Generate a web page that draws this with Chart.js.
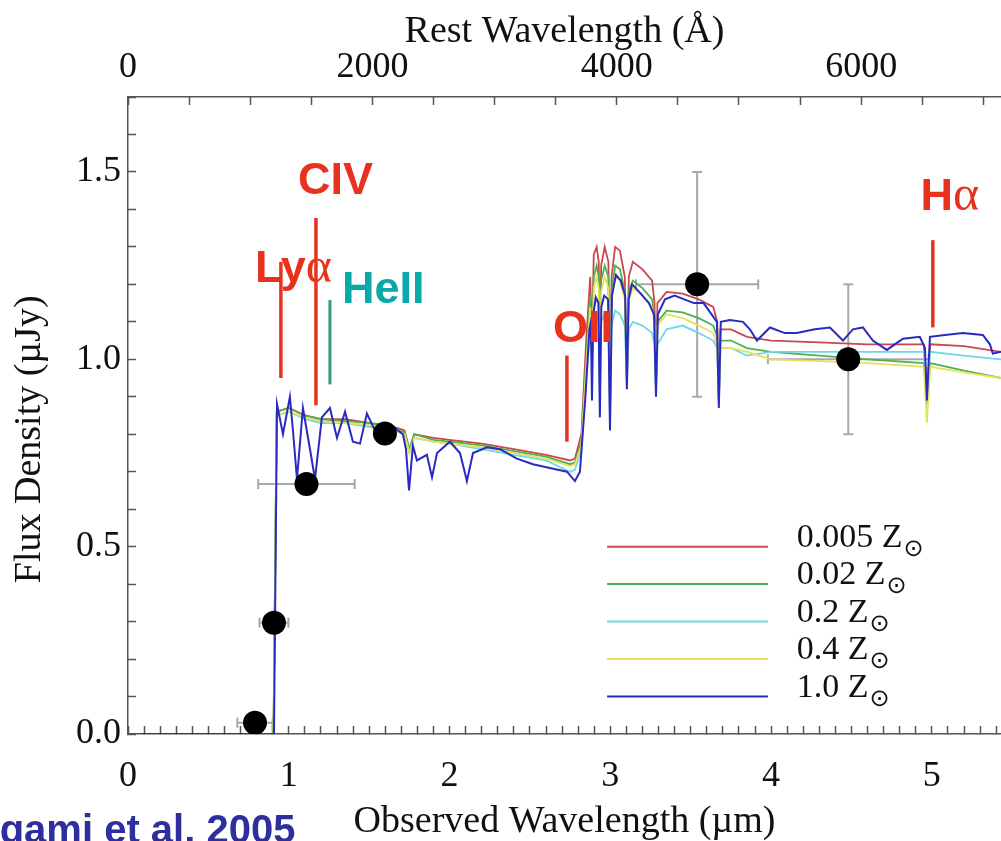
<!DOCTYPE html>
<html>
<head>
<meta charset="utf-8">
<script src="https://cdn.jsdelivr.net/npm/chart.js@4.4.0/dist/chart.umd.min.js"></script>
<style>
  html, body { margin: 0; padding: 0; background: #fff; }
  canvas { display: block; }
</style>
</head>
<body>
<canvas id="sed" width="1001" height="841"></canvas>
<script>
// observed wavelength in micron, rest frame axis uses 1+z
const onePlusZ = 7.6;

// 1.0 Zsun model (the noisy blue one)
const waveBlue = [0.075, 0.908, 0.927, 0.964, 1.007, 1.026, 1.051, 1.088, 1.132, 1.163, 1.206, 1.256, 1.300, 1.350, 1.399,
  1.443, 1.486, 1.536, 1.590, 1.648, 1.710, 1.729, 1.748, 1.772, 1.797, 1.859, 1.891, 1.922, 2.002, 2.065, 2.108, 2.146,
  2.233, 2.313, 2.419, 2.519, 2.624, 2.730, 2.780, 2.811,
  2.845, 2.870, 2.879, 2.886, 2.894, 2.910, 2.926, 2.935, 2.944, 2.962, 2.986, 2.998, 3.010, 3.035, 3.065, 3.092, 3.103,
  3.114, 3.135, 3.180, 3.240, 3.272, 3.284, 3.296, 3.340, 3.400, 3.460, 3.520, 3.580, 3.630, 3.663, 3.675, 3.687, 3.744,
  3.825, 3.868, 3.912, 3.993, 4.086, 4.160, 4.272, 4.366, 4.447, 4.509, 4.571, 4.633, 4.720, 4.820, 4.925, 4.957, 4.969,
  4.988, 5.081, 5.193, 5.317, 5.361, 5.379, 5.430];
const flux10 = [0.0, 0.0, 0.88, 0.80, 0.90, 0.81, 0.68, 0.87, 0.76, 0.68, 0.845, 0.87, 0.79, 0.86, 0.78,
  0.775, 0.855, 0.81, 0.83, 0.82, 0.80, 0.76, 0.65, 0.77, 0.73, 0.745, 0.685, 0.75, 0.78, 0.75, 0.675, 0.75,
  0.765, 0.76, 0.735, 0.72, 0.71, 0.70, 0.675, 0.70,
  0.90, 1.08, 1.10, 0.89, 1.12, 1.165, 1.15, 0.845, 1.14, 1.17, 1.16, 0.81, 1.17, 1.225, 1.21, 1.17, 0.92,
  1.16, 1.20, 1.18, 1.15, 1.12, 0.90, 1.12, 1.16, 1.17, 1.16, 1.15, 1.15, 1.12, 1.10, 0.87, 1.10, 1.105,
  1.10, 1.08, 1.05, 1.085, 1.07, 1.07, 1.08, 1.085, 1.05, 1.08, 1.085, 1.05, 1.025, 1.055, 1.06, 1.03, 0.89,
  1.06, 1.065, 1.07, 1.065, 1.04, 1.015, 1.02];

// smoother low metallicity models
const waveModel = [0.075, 0.905, 0.925, 1.0, 1.1, 1.2, 1.35, 1.5, 1.65, 1.72, 1.75, 1.78, 1.9, 2.0, 2.2, 2.4, 2.6, 2.75,
  2.78, 2.82, 2.85, 2.875, 2.886, 2.897, 2.915, 2.928, 2.935, 2.943,
  2.965, 2.988, 2.998, 3.008, 3.03, 3.06, 3.09, 3.103, 3.115, 3.14,
  3.20, 3.26, 3.275, 3.284, 3.293, 3.35, 3.45, 3.55, 3.64, 3.665,
  3.675, 3.685, 3.75, 3.85, 4.0, 4.3, 4.6, 4.95, 4.969, 4.99,
  5.2, 5.43];
const flux0005 = [0, 0, 0.86, 0.87, 0.85, 0.84, 0.84, 0.83, 0.82, 0.81, 0.76, 0.80, 0.79, 0.785, 0.775, 0.76, 0.745, 0.73,
  0.735, 0.80, 1.05, 1.22, 1.05, 1.28, 1.30, 1.26, 0.95, 1.25,
  1.30, 1.26, 0.86, 1.22, 1.30, 1.29, 1.22, 0.95, 1.22, 1.26,
  1.24, 1.21, 1.15, 0.93, 1.15, 1.18, 1.175, 1.16, 1.14, 1.10,
  0.90, 1.08, 1.08, 1.06, 1.05, 1.045, 1.04, 1.04, 0.92, 1.04,
  1.035, 1.02];
const flux002 = [0, 0, 0.86, 0.87, 0.85, 0.84, 0.835, 0.83, 0.815, 0.805, 0.76, 0.80, 0.785, 0.78, 0.77, 0.755, 0.74, 0.72,
  0.725, 0.78, 1.00, 1.17, 1.02, 1.22, 1.25, 1.22, 0.93, 1.21,
  1.25, 1.22, 0.85, 1.18, 1.25, 1.24, 1.18, 0.94, 1.18, 1.21,
  1.19, 1.16, 1.11, 0.92, 1.10, 1.13, 1.125, 1.11, 1.09, 1.06,
  0.89, 1.05, 1.05, 1.03, 1.02, 1.01, 1.00, 0.99, 0.88, 0.99,
  0.97, 0.95];
const flux02 = [0, 0, 0.85, 0.86, 0.84, 0.83, 0.83, 0.82, 0.81, 0.80, 0.75, 0.79, 0.78, 0.775, 0.76, 0.745, 0.73, 0.70,
  0.705, 0.76, 0.95, 1.08, 0.98, 1.11, 1.12, 1.10, 0.90, 1.10,
  1.12, 1.10, 0.84, 1.09, 1.13, 1.12, 1.09, 0.93, 1.08, 1.10,
  1.09, 1.07, 1.04, 0.91, 1.04, 1.08, 1.09, 1.07, 1.05, 1.03,
  0.88, 1.03, 1.03, 1.01, 1.02, 1.02, 1.02, 1.02, 0.90, 1.02,
  1.01, 1.00];
const flux04 = [0, 0, 0.85, 0.86, 0.845, 0.835, 0.83, 0.825, 0.81, 0.80, 0.75, 0.79, 0.78, 0.775, 0.765, 0.75, 0.735, 0.715,
  0.72, 0.77, 0.98, 1.14, 1.00, 1.19, 1.22, 1.19, 0.92, 1.18,
  1.22, 1.19, 0.84, 1.16, 1.22, 1.21, 1.16, 0.93, 1.16, 1.19,
  1.17, 1.14, 1.09, 0.91, 1.09, 1.12, 1.11, 1.09, 1.07, 1.04,
  0.88, 1.03, 1.03, 1.02, 1.00, 0.995, 0.99, 0.98, 0.83, 0.98,
  0.965, 0.95];

// photometry with errors
const photWave = [0.79, 0.908, 1.11, 1.598, 3.54, 4.48];
const photFlux = [0.03, 0.297, 0.667, 0.802, 1.20, 1.00];
const photWaveErr = [0.11, 0.09, 0.30, 0, 0.38, 0.50];
const photFluxErr = [0, 0, 0, 0, 0.30, 0.20];

// emission line markers
const lineNames = ["Lyα", "CIV", "HeII", "OII", "Hα"];
const lineWave = [0.951, 1.169, 1.256, 2.73, 5.006];
const lineTop = [1.26, 1.377, 1.158, 1.01, 1.318];
const lineBottom = [0.95, 0.877, 0.933, 0.78, 1.085];
const labelWave = [0.79, 1.057, 1.331, 2.643, 4.93];
const labelFlux = [1.206, 1.441, 1.150, 1.045, 1.398];
const lineColors = ["#e8321e", "#e8321e", "#2fa070", "#e8321e", "#e8321e"];
const labelColors = ["#e8321e", "#e8321e", "#0aa8a8", "#e8321e", "#e8321e"];

const legendNames = ["0.005", "0.02", "0.2", "0.4", "1.0"];
const legendFlux = [0.5, 0.4, 0.3, 0.2, 0.1];
const seriesColors = ["#c9474f", "#4fb04f", "#6fd8e6", "#e3e35a", "#2a2ac0"];

// top axis ticks (rest frame, Angstrom)
const restTicks = [0, 500, 1000, 1500, 2000, 2500, 3000, 3500, 4000, 4500, 5000, 5500, 6000, 6500, 7000];
const restLabels = [0, 2000, 4000, 6000];

const xMax = 5.43;
const serif = '"Liberation Serif", "Times New Roman", serif';
const sans = '"Liberation Sans", Arial, sans-serif';

const seriesFlux = [flux0005, flux002, flux02, flux04, flux10];
const seriesWave = [waveModel, waveModel, waveModel, waveModel, waveBlue];

const spectra = seriesFlux.map((f, i) => ({
  label: legendNames[i] + " Z☉",
  data: f.map((y, j) => ({ x: seriesWave[i][j], y })),
  showLine: true,
  borderColor: seriesColors[i],
  borderWidth: i === 4 ? 2 : 1.8,
  pointRadius: 0,
  order: 6 - i
}));

const markers = lineWave.map((w, i) => ({
  label: lineNames[i],
  data: [{ x: w, y: lineBottom[i] }, { x: w, y: lineTop[i] }],
  showLine: true,
  borderColor: lineColors[i],
  borderWidth: i === 2 ? 3 : 3.5,
  pointRadius: 0,
  order: 1
}));

function errBar(data, rot) {
  return {
    label: "err",
    data,
    showLine: true,
    borderColor: "#a8a8a8",
    borderWidth: 2,
    pointStyle: "line",
    pointRadius: 5,
    pointRotation: rot,
    pointBorderColor: "#a8a8a8",
    pointBorderWidth: 2,
    order: 8
  };
}
const errorBars = [];
photWave.forEach((x, i) => {
  const y = photFlux[i];
  if (photWaveErr[i] > 0) errorBars.push(errBar([{ x: x - photWaveErr[i], y }, { x: x + photWaveErr[i], y }], 90));
  if (photFluxErr[i] > 0) errorBars.push(errBar([{ x, y: y - photFluxErr[i] }, { x, y: y + photFluxErr[i] }], 0));
});

const dots = {
  label: "photometry",
  data: photWave.map((x, i) => ({ x, y: photFlux[i] })),
  pointRadius: 12,
  backgroundColor: "#000",
  borderWidth: 0,
  order: 0
};

// legend + line names + credit text
const annotations = {
  id: "annotations",
  afterDatasetsDraw(chart) {
    const { ctx, scales: { x, y } } = chart;
    ctx.save();
    legendNames.forEach((name, i) => {
      const py = y.getPixelForValue(legendFlux[i]);
      ctx.strokeStyle = seriesColors[i];
      ctx.lineWidth = 2;
      ctx.beginPath();
      ctx.moveTo(x.getPixelForValue(2.98), py);
      ctx.lineTo(x.getPixelForValue(3.98), py);
      ctx.stroke();
      ctx.fillStyle = "#111";
      ctx.textBaseline = "alphabetic";
      ctx.font = "34px " + serif;
      const tx = x.getPixelForValue(4.16);
      const txt = name + " Z";
      ctx.fillText(txt, tx, py);
      const w = ctx.measureText(txt).width;
      ctx.font = '24px "DejaVu Sans", sans-serif';
      ctx.fillText("⊙", tx + w + 1, py + 9);
    });

    lineNames.forEach((name, i) => {
      const px = x.getPixelForValue(labelWave[i]);
      const py = y.getPixelForValue(labelFlux[i]);
      ctx.fillStyle = labelColors[i];
      const greek = name.endsWith("α");
      const head = greek ? name.slice(0, -1) : name;
      ctx.font = "bold 45px " + sans;
      ctx.fillText(head, px, py);
      if (greek) {
        const w = ctx.measureText(head).width;
        ctx.font = "50px " + serif;
        ctx.fillText("α", px + w, py);
      }
    });

    ctx.fillStyle = "#2e2e9e";
    ctx.font = "bold 40px " + sans;
    ctx.fillText("Egami et al. 2005", -27, 843);
    ctx.restore();
  }
};

const tickFont = { family: serif, size: 36, lineHeight: 1 };
const titleFont = { family: serif, size: 38, lineHeight: 1 };
const tickGrid = { drawOnChartArea: false, tickLength: -8, tickColor: "#555", tickWidth: 1.5 };
const axisBorder = { color: "#555", width: 1.5 };

new Chart(document.getElementById("sed"), {
  type: "scatter",
  data: { datasets: [dots, ...markers, ...spectra, ...errorBars] },
  options: {
    responsive: false,
    animation: false,
    events: [],
    layout: { padding: 0, autoPadding: false },
    plugins: { legend: { display: false }, tooltip: { enabled: false } },
    scales: {
      x: {
        type: "linear",
        position: "bottom",
        min: 0,
        max: xMax,
        afterFit: s => { s.height = 107; s.paddingLeft = 0; s.paddingRight = 0; },
        grid: tickGrid,
        border: axisBorder,
        ticks: {
          stepSize: 0.1,
          includeBounds: false,
          autoSkip: false,
          maxRotation: 0,
          padding: 33,
          color: "#111",
          font: tickFont,
          callback: v => Math.abs(v - Math.round(v)) < 1e-6 ? String(Math.round(v)) : ""
        },
        title: { display: true, text: "Observed Wavelength (µm)", color: "#111", font: titleFont, padding: { top: 0, bottom: 0 } }
      },
      x2: {
        type: "linear",
        position: "top",
        min: 0,
        max: xMax * 10000 / onePlusZ,
        afterBuildTicks: s => { s.ticks = restTicks.map(v => ({ value: v })); },
        afterFit: s => { s.height = 97; s.paddingLeft = 0; s.paddingRight = 0; },
        grid: tickGrid,
        border: axisBorder,
        ticks: {
          autoSkip: false,
          maxRotation: 0,
          padding: 19,
          color: "#111",
          font: tickFont,
          callback: v => restLabels.includes(v) ? String(v) : ""
        },
        title: { display: true, text: "Rest Wavelength (Å)", color: "#111", font: titleFont, padding: { top: 13, bottom: 0 } }
      },
      y: {
        type: "linear",
        position: "left",
        min: 0,
        max: 1.70,
        afterFit: s => { s.width = 128; },
        grid: tickGrid,
        border: axisBorder,
        ticks: {
          stepSize: 0.1,
          includeBounds: false,
          autoSkip: false,
          padding: 15,
          color: "#111",
          font: tickFont,
          callback: v => Math.abs(v * 2 - Math.round(v * 2)) < 1e-6 ? v.toFixed(1) : ""
        },
        title: { display: true, text: "Flux Density (µJy)\u00a0\u00a0\u00a0\u00a0\u00a0", color: "#111", font: titleFont, padding: { top: 11, bottom: 0 } }
      }
    }
  },
  plugins: [annotations]
});
</script>
</body>
</html>
